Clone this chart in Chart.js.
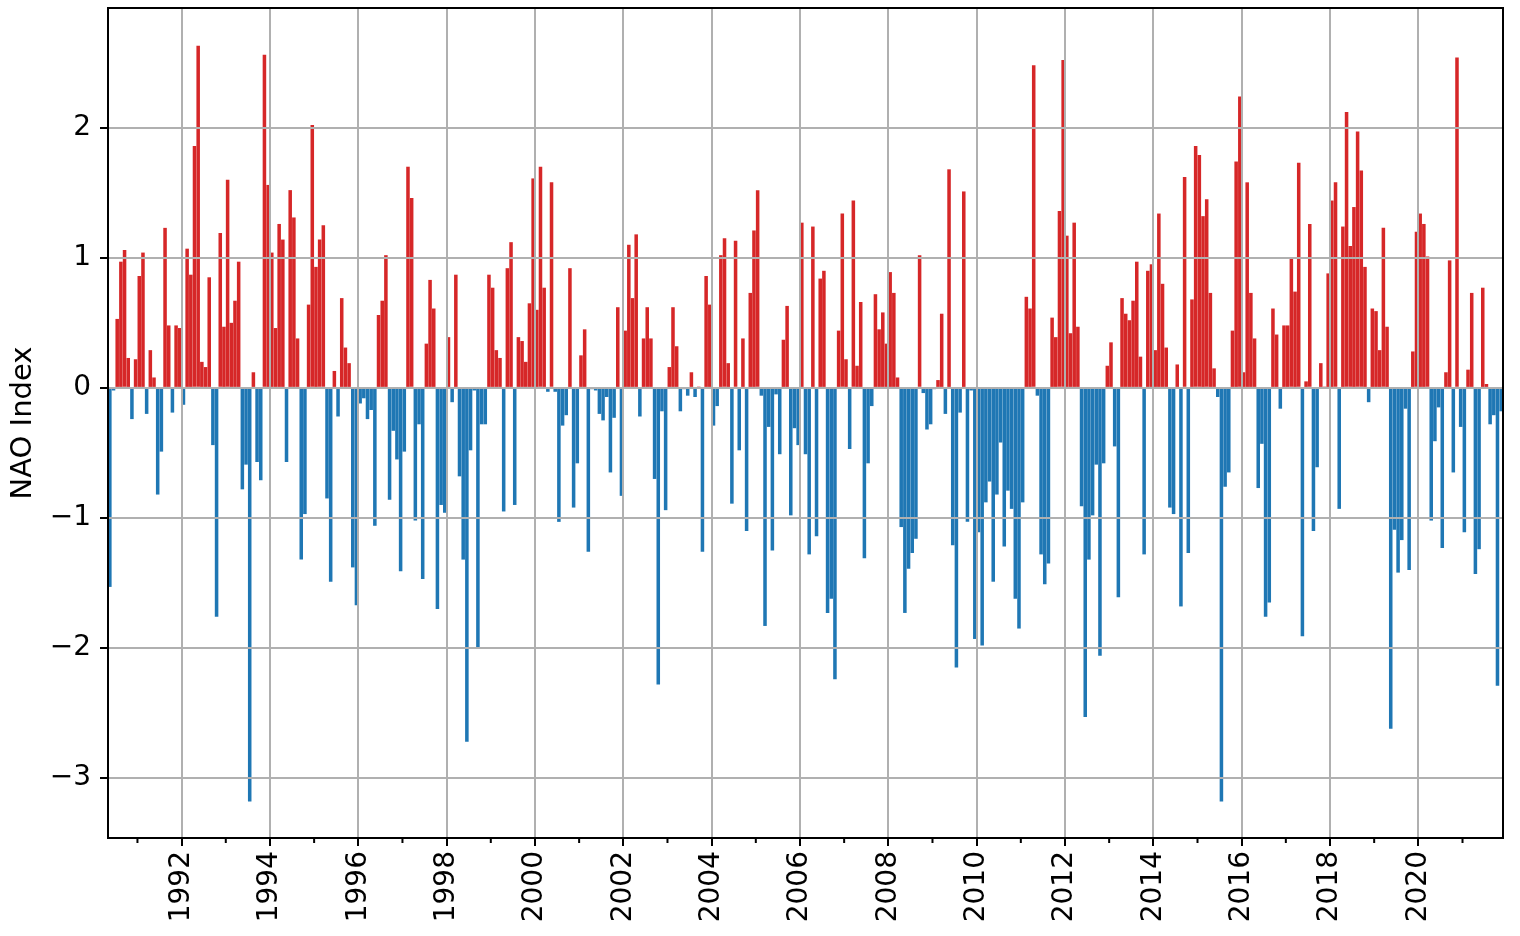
<!DOCTYPE html>
<html>
<head>
<meta charset="utf-8">
<title>NAO Index</title>
<script src="https://cdn.jsdelivr.net/npm/chart.js@4.4.1/dist/chart.umd.min.js"></script>
<style>
  html, body { margin: 0; padding: 0; background: #fff; }
  #wrap { width: 1520px; height: 936px; position: relative; }
</style>
</head>
<body>
<div id="wrap"><canvas id="myChart"></canvas></div>
<script>
const ctx = document.getElementById("myChart");

// monthly NAO index, first value is May 1990, last is Nov 2021
var startYear = 1990;
var startMonth = 5;

var nao1990s = [
  -1.53, -0.02, 0.53, 0.97, 1.06, 0.23, -0.24, 0.22,
  0.86, 1.04, -0.20, 0.29, 0.08, -0.82, -0.49, 1.23, 0.48, -0.19, 0.48, 0.46,
  -0.13, 1.07, 0.87, 1.86, 2.63, 0.20, 0.16, 0.85, -0.44, -1.76, 1.19, 0.47,
  1.60, 0.50, 0.67, 0.97, -0.78, -0.59, -3.18, 0.12, -0.57, -0.71, 2.56, 1.56,
  1.04, 0.46, 1.26, 1.14, -0.57, 1.52, 1.31, 0.38, -1.32, -0.97, 0.64, 2.02,
  0.93, 1.14, 1.25, -0.85, -1.49, 0.13, -0.22, 0.69, 0.31, 0.19, -1.38, -1.67,
  -0.12, -0.08, -0.24, -0.17, -1.06, 0.56, 0.67, 1.02, -0.86, -0.33, -0.55, -1.41,
  -0.49, 1.70, 1.46, -1.02, -0.28, -1.47, 0.34, 0.83, 0.61, -1.70, -0.90, -0.96,
  0.39, -0.11, 0.87, -0.68, -1.32, -2.72, -0.48, -0.02, -2.00, -0.28, -0.28, 0.87,
  0.77, 0.29, 0.23, -0.95, 0.92, 1.12, -0.90, 0.39, 0.36, 0.20, 0.65, 1.61
];
var nao2000s = [
  0.60, 1.70, 0.77, -0.03, 1.58, -0.03, -1.03, -0.29, -0.21, 0.92, -0.92, -0.58,
  0.25, 0.45, -1.26, -0.01, -0.02, -0.20, -0.25, -0.07, -0.65, -0.23, 0.62, -0.83,
  0.44, 1.10, 0.69, 1.18, -0.22, 0.38, 0.62, 0.38, -0.70, -2.28, -0.18, -0.94,
  0.16, 0.62, 0.32, -0.18, -0.01, -0.06, 0.12, -0.07, 0.01, -1.26, 0.86, 0.64,
  -0.29, -0.14, 1.02, 1.15, 0.19, -0.89, 1.13, -0.48, 0.38, -1.10, 0.73, 1.21,
  1.52, -0.06, -1.83, -0.30, -1.25, -0.05, -0.51, 0.37, 0.63, -0.98, -0.31, -0.44,
  1.27, -0.51, -1.28, 1.24, -1.14, 0.84, 0.90, -1.73, -1.62, -2.24, 0.44, 1.34,
  0.22, -0.47, 1.44, 0.17, 0.66, -1.31, -0.58, -0.14, 0.72, 0.45, 0.58, 0.34,
  0.89, 0.73, 0.08, -1.07, -1.73, -1.39, -1.27, -1.16, 1.02, -0.04, -0.32, -0.28,
  -0.01, 0.06, 0.57, -0.20, 1.68, -1.21, -2.15, -0.19, 1.51, -1.03, -0.02, -1.93
];
var nao2010s = [
  -1.11, -1.98, -0.88, -0.72, -1.49, -0.82, -0.42, -1.22, -0.79, -0.93, -1.62, -1.85,
  -0.88, 0.70, 0.61, 2.48, -0.06, -1.28, -1.51, -1.35, 0.54, 0.39, 1.36, 2.52,
  1.17, 0.42, 1.27, 0.47, -0.91, -2.53, -1.32, -0.98, -0.59, -2.06, -0.58, 0.17,
  0.35, -0.45, -1.61, 0.69, 0.57, 0.52, 0.67, 0.97, 0.24, -1.28, 0.90, 0.95,
  0.29, 1.34, 0.80, 0.31, -0.92, -0.97, 0.18, -1.68, 1.62, -1.27, 0.68, 1.86,
  1.79, 1.32, 1.45, 0.73, 0.15, -0.07, -3.18, -0.76, -0.65, 0.44, 1.74, 2.24,
  0.12, 1.58, 0.73, 0.38, -0.77, -0.43, -1.76, -1.65, 0.61, 0.41, -0.16, 0.48,
  0.48, 1.00, 0.74, 1.73, -1.91, 0.05, 1.26, -1.10, -0.61, 0.19, 0.01, 0.88,
  1.44, 1.58, -0.93, 1.24, 2.12, 1.09, 1.39, 1.97, 1.67, 0.93, -0.11, 0.61,
  0.59, 0.29, 1.23, 0.47, -2.62, -1.09, -1.42, -1.17, -0.16, -1.40, 0.28, 1.20
];
var nao2020s = [
  1.34, 1.26, 1.01, -1.02, -0.41, -0.15, -1.23, 0.12, 0.98, -0.65, 2.54, -0.30,
  -1.11, 0.14, 0.73, -1.43, -1.24, 0.77, 0.03, -0.28, -0.21, -2.29, -0.18
];

var labeledYears = [1992, 1994, 1996, 1998, 2000, 2002, 2004, 2006, 2008, 2010, 2012, 2014, 2016, 2018, 2020];
var minorYears = [1991, 1993, 1995, 1997, 1999, 2001, 2003, 2005, 2007, 2009, 2011, 2013, 2015, 2017, 2019, 2021];
var yTicks = [-3, -2, -1, 0, 1, 2];

var posColor = "#d62728";
var negColor = "#1f77b4";
var fontName = "'DejaVu Sans', sans-serif";

var naoValues = nao1990s.concat(nao2000s, nao2010s, nao2020s);
var chart;
var config = {};

// months counted from Jan of startYear, bar sits in the middle of its month
function monthValue(year, month) {
  return (year - startYear) * 12 + (month - 1);
}

function loadSetup() {
  let first = monthValue(startYear, startMonth);
  let points = naoValues.map((v, i) => ({ x: first + i + 0.5, y: v }));
  let colors = naoValues.map(v => (v >= 0 ? posColor : negColor));

  config = {
    type: "bar",
    data: {
      datasets: [{
        data: points,
        backgroundColor: colors,
        borderWidth: 0,
        barPercentage: 0.96,
        categoryPercentage: 1
      }]
    },
    options: {
      responsive: true,
      maintainAspectRatio: false,
      animation: false,
      layout: { padding: { top: 8, right: 17, bottom: 0, left: 0 } },
      plugins: { legend: { display: false }, tooltip: { enabled: false } },
      scales: {
        x: {
          type: "linear",
          offset: false,
          min: first,
          max: first + naoValues.length,
          afterBuildTicks: (scale) => {
            scale.ticks = labeledYears.map(y => ({ value: monthValue(y, 1) }));
          },
          afterFit: (scale) => {
            scale.height = 98;
            scale.paddingLeft = 0;
            scale.paddingRight = 0;
          },
          grid: {
            z: 1,
            offset: false,
            color: "#b0b0b0",
            lineWidth: 2,
            tickColor: "#000",
            tickWidth: 2,
            tickLength: 8
          },
          border: { color: "#000", width: 2, z: 2 },
          ticks: {
            autoSkip: false,
            minRotation: 90,
            maxRotation: 90,
            padding: 5,
            color: "#000",
            font: { family: fontName, size: 28 },
            callback: (v) => "" + (startYear + v / 12)
          }
        },
        y: {
          min: -3.46,
          max: 2.92,
          afterBuildTicks: (scale) => {
            scale.ticks = yTicks.map(v => ({ value: v }));
          },
          afterFit: (scale) => {
            scale.width = 108;
            scale.paddingTop = 0;
            scale.paddingBottom = 0;
          },
          grid: {
            z: 1,
            color: "#b0b0b0",
            lineWidth: 2,
            tickColor: "#000",
            tickWidth: 2,
            tickLength: 8
          },
          border: { color: "#000", width: 2, z: 2 },
          title: {
            display: true,
            text: "NAO Index",
            color: "#000",
            padding: { top: 6, bottom: 0 },
            font: { family: fontName, size: 29 }
          },
          ticks: {
            padding: 9,
            color: "#000",
            font: { family: fontName, size: 28 },
            callback: (v) => (v < 0 ? "\u2212" + Math.abs(v) : "" + v)
          }
        }
      }
    },
    plugins: [framePlugin]
  };
}

// closes the box on top/right and adds the short odd-year ticks
const framePlugin = {
  id: "frame",
  afterDraw(c) {
    let g = c.ctx;
    let a = c.chartArea;
    let xs = c.scales.x;
    g.save();
    g.strokeStyle = "#000";
    g.lineWidth = 2;
    g.strokeRect(a.left, a.top, a.right - a.left, a.bottom - a.top);
    g.beginPath();
    minorYears.forEach(y => {
      let px = xs.getPixelForValue(monthValue(y, 1));
      g.moveTo(px, a.bottom);
      g.lineTo(px, a.bottom + 5);
    });
    g.stroke();
    g.restore();
  }
};

function loadChart() {
  if (chart != undefined) {
    chart.destroy();
  }
  chart = new Chart(ctx, config);
}

loadSetup();
loadChart();
</script>
</body>
</html>
